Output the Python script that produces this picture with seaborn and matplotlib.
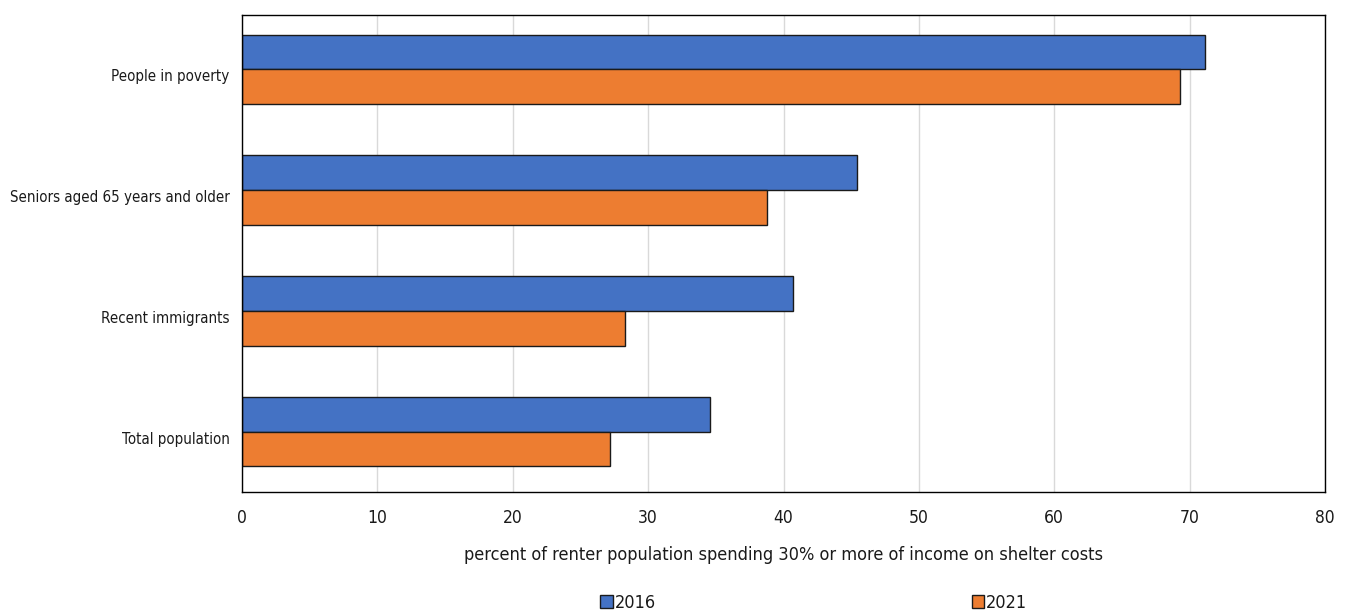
import matplotlib
matplotlib.use("Agg")
import matplotlib.pyplot as plt
import matplotlib.transforms as mtransforms
import seaborn as sns
import pandas as pd

categories = ["People in poverty", "Seniors aged 65 years and older", "Recent immigrants", "Total population"]
years = ["2016", "2021"]
values_2016 = [71.1, 45.4, 40.7, 34.6]
values_2021 = [69.3, 38.8, 28.3, 27.2]
xticks = [0, 10, 20, 30, 40, 50, 60, 70, 80]
xlabel = "percent of renter population spending 30% or more of income on shelter costs"

sns.set_theme(style="white")
plt.rcParams["font.family"] = ["DejaVu Sans"]
plt.rcParams["font.stretch"] = "condensed"
plt.rcParams["text.color"] = "#1a1a1a"

df = pd.DataFrame({
    "category": categories * 2,
    "year": [years[0]] * 4 + [years[1]] * 4,
    "value": values_2016 + values_2021,
})

fig = plt.figure(figsize=(13.47, 6.16), dpi=100)
ax = fig.add_axes([242/1347, 1 - 492/616, (1325-242)/1347, (492-15)/616])
sns.barplot(data=df, y="category", x="value", hue="year", order=categories, hue_order=years,
            palette=["#4472C4", "#ED7D31"], saturation=1, orient="h", width=0.575,
            edgecolor="#1a1a1a", linewidth=1.0, ax=ax, legend=True)
ax.set_xlim(0, 80)
ax.set_ylim(3.5, -0.45)
ax.set_xticks(xticks)
ax.set_xticklabels([str(t) for t in xticks], fontsize=12.5, color="#1a1a1a")
ax.tick_params(axis="y", labelsize=10.8, length=0, pad=9, labelcolor="#1a1a1a")
ax.tick_params(axis="x", length=0, pad=12)
ax.set_ylabel("")
ax.set_xlabel(xlabel, fontsize=13, labelpad=14, color="#1a1a1a")
ax.xaxis.grid(True, color="#d9d9d9", linewidth=1)
ax.set_axisbelow(True)
for s in ax.spines.values():
    s.set_color("black")
    s.set_linewidth(1)

offset = mtransforms.ScaledTranslation(0, -6/100, fig.dpi_scale_trans)
for lab in ax.get_yticklabels():
    lab.set_transform(lab.get_transform() + offset)

handles, labels = ax.get_legend_handles_labels()
ax.get_legend().remove()
fig.legend(handles, labels, loc="lower center", bbox_to_anchor=(0.604, -0.02), ncol=2,
           frameon=False, fontsize=13, handlelength=0.7, handleheight=0.7,
           handletextpad=0.1, columnspacing=17.5)
fig.savefig("out.png", dpi=100)
